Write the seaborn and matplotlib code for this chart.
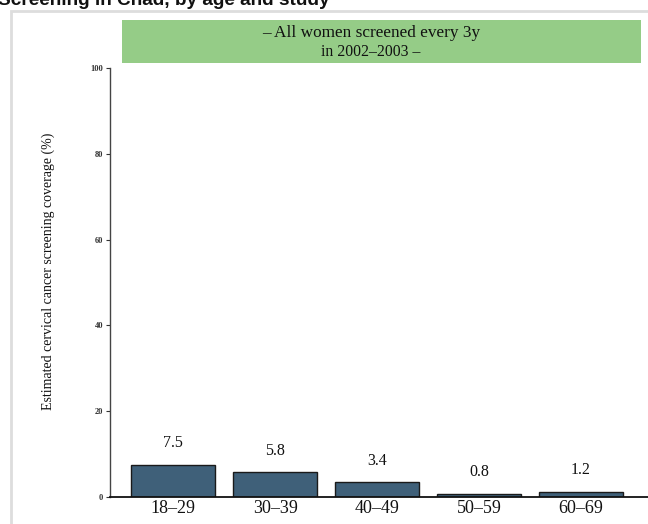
import matplotlib
matplotlib.use("Agg")
import matplotlib.pyplot as plt
from matplotlib.patches import Rectangle
import seaborn as sns

age_groups = ["18–29", "30–39", "40–49", "50–59", "60–69"]
coverage = [7.5, 5.8, 3.4, 0.8, 1.2]
y_ticks = [0, 20, 40, 60, 80, 100]

title = "Screening in Chad, by age and study"
strip_line1 = "– All women screened every 3y"
strip_line2 = "in 2002–2003 –"
y_label = "Estimated cervical cancer screening coverage (%)"

sns.set_theme(style="white")
plt.rcParams["font.family"] = ["Liberation Serif", "DejaVu Serif"]

W, H = 648, 524
fig = plt.figure(figsize=(W / 100, H / 100), dpi=100)
fig.patch.set_facecolor("white")

# axes placed in pixel terms
ax = fig.add_axes([110 / W, (H - 497) / H, (W - 110) / W, 429 / H])

sns.barplot(x=age_groups, y=coverage, color="#3F6079", width=0.82,
            edgecolor="#1a1a1a", linewidth=1.0, saturation=1, ax=ax)

for i, v in enumerate(coverage):
    ax.text(i, v + 5, f"{v}", ha="center", va="center", fontsize=11.5,
            color="#111111")

ax.set_xlim(-0.62, 4.66)
ax.set_ylim(0, 100)
ax.set_yticks(y_ticks)
ax.set_yticklabels([str(t) for t in y_ticks], fontsize=6,
                   fontweight="bold", color="#333333")
ax.tick_params(axis="y", length=3, width=0.8, color="#333333", pad=2,
               left=True)
ax.tick_params(axis="x", length=0, labelsize=13, pad=2, labelcolor="#111111")
ax.set_xlabel("")
ax.set_ylabel("")
sns.despine(ax=ax)
ax.spines["left"].set_color("#444444")
ax.spines["left"].set_linewidth(1.0)
ax.spines["bottom"].set_color("#111111")
ax.spines["bottom"].set_linewidth(1.3)

fig.text(48 / W, 1 - 271 / H, y_label, rotation=90, ha="center",
         va="center", fontsize=10, color="#111111")

# green strip above the panel
fig.patches.append(Rectangle((122 / W, 1 - 63 / H), (641 - 122) / W, 43 / H,
                             transform=fig.transFigure, facecolor="#95CC87",
                             edgecolor="none", zorder=0))
mid_x = 371 / W
fig.text(mid_x, 1 - 33 / H, strip_line1, ha="center", va="center",
         fontsize=12.4, color="#111111")
fig.text(mid_x, 1 - 52 / H, strip_line2, ha="center", va="center",
         fontsize=11.3, color="#111111")

# light panel frame
fig.patches.append(Rectangle((11 / W, -0.05), 1.0, 1 - 11 / H + 0.05,
                             transform=fig.transFigure, facecolor="none",
                             edgecolor="#DDDDDD", linewidth=2, zorder=0))

fig.text(-2 / W, 1 - 5 / H, title, ha="left", va="baseline", fontsize=13.7,
         fontweight="bold", family=["Liberation Sans", "DejaVu Sans"],
         color="#111111")

fig.savefig("out.png", dpi=100)
